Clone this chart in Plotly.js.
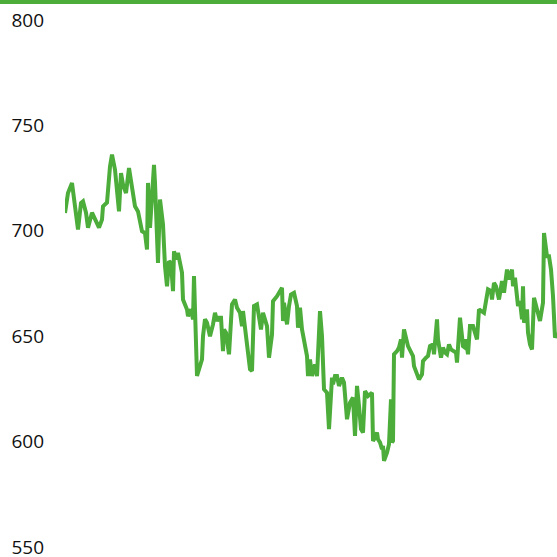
<!DOCTYPE html>
<html>
<head>
<meta charset="utf-8">
<script src="https://cdn.plot.ly/plotly-3.0.1.min.js"></script>
<style>
html,body{margin:0;padding:0;background:#fff;}
#chart{width:557px;height:557px;}
</style>
</head>
<body>
<div id="chart"></div>
<script>
// trading-day index and closing value
const days = [0,3,7,9,13,16,18,21,23,27,30,34,37,38,42,43,45,47,50,54,56,58,61,64,67,70,73,75,77,80,82,83,85,89,90,93,95,98,100,102,104,106,108,109,111,113,117,118,122,123,126,128,129,132,135,137,138,140,142,145,148,150,152,154,156,158,159,161,164,167,170,172,175,177,178,180,182,185,187,189,192,196,198,200,202,204,206,207,208,212,217,218,219,221,222,224,226,229,232,233,235,237,240,242,243,245,247,250,252,255,257,259,262,264,267,268,270,272,274,277,279,282,285,288,290,292,294,296,298,300,302,303,307,308,310,312,313,315,317,318,319,322,324,326,327,328,329,332,334,336,337,339,343,345,348,349,352,354,357,358,361,363,365,368,369,372,373,376,378,380,382,384,386,388,391,392,395,397,398,400,401,403,405,408,410,412,414,417,419,423,426,427,429,431,433,434,437,439,442,444,447,448,450,452,453,455,457,458,459,462,463,465,467,469,471,473,475,478,479,482,484,486,488,490,492];
const values = [708.5,717.9,722.7,714.8,700.6,713.2,714,708.6,701.5,708.6,705.3,701.5,705.3,711.6,713.4,721.1,730.5,736.1,729,709.2,727.4,721.9,717.9,729.8,721.1,711.6,709.2,703.7,699.8,699,691.1,722.7,701.4,731.3,722.7,684.8,714.8,703,683.2,673.7,685.6,684.8,671.4,690.3,686.4,689.5,680.1,667.4,662.7,659.5,662.7,658,678.5,631.1,635.8,639,650,658,656.4,650,655.6,661.1,657.2,658.8,658.8,642.9,653.2,651.7,641.4,665.1,667.4,663.5,661.1,654.8,661.9,654,645.3,634.3,633.5,664.3,665.1,653.2,661.1,658,654.8,639.8,650,650.8,666.6,669,673,657.2,665.9,658,655.6,664.3,669.8,670.6,664.3,654,663.5,653.2,646.1,640.6,631.1,639,631.1,636.6,631.1,661.9,650,624.8,623.2,605.9,630.3,627.2,631.1,631.1,626.4,630.3,628,610.6,618.5,620.9,602.7,626.4,616.9,605.9,604.3,624,622.4,621.6,623.2,600.3,601.9,604.3,601.1,599.6,596.4,598,590.9,594.8,598.8,620.1,599.6,600.3,641.4,642.9,644.6,648.5,639.8,653.2,645.3,643.7,640.6,635.8,632.7,629.5,631.9,638.2,639.8,640.6,645.3,646.1,641.4,658,648.5,639.8,644.6,642.2,641.4,646.1,643.7,642.9,642.2,637.5,658.8,650,645.3,644.6,648.5,641.4,654.8,654.8,650.8,648.5,662.7,661.9,661.1,672.2,671.4,667.4,675.3,673.7,667.4,667.4,676.1,670.6,681.6,676.9,681.6,673.7,677.7,665.9,664.3,666.6,658,673.7,656.4,662.7,651.7,646.1,643.7,668.2,664.3,659.5,657.2,665.9,699,687.9,687.9,681.6,669,649.3,651.7];
const yTicks = [550,600,650,700,750,800];

const green = '#4cad3a';

Plotly.newPlot('chart', [{
  x: days,
  y: values,
  type: 'scatter',
  mode: 'lines',
  line: {color: green, width: 4},
  hoverinfo: 'skip'
}], {
  width: 557,
  height: 557,
  margin: {l: 65, r: 0, t: 20, b: 10, pad: 0},
  paper_bgcolor: '#fff',
  plot_bgcolor: '#fff',
  showlegend: false,
  font: {family: '"Open Sans", sans-serif', size: 19, color: '#111'},
  xaxis: {range: [0, 492], showgrid: false, zeroline: false, showticklabels: false, showline: false, ticks: ''},
  yaxis: {range: [550, 800], tickvals: yTicks, ticktext: yTicks.map(String), showgrid: false, zeroline: false, showline: false, ticks: '', ticklabelstandoff: 20, ticklabeloverflow: 'allow'},
  shapes: [{type: 'rect', xref: 'paper', yref: 'paper', x0: -0.14, x1: 1.0, y0: 1.0303, y1: 1.04, fillcolor: green, line: {width: 0}}]
}, {displayModeBar: false, staticPlot: true});
</script>
</body>
</html>
